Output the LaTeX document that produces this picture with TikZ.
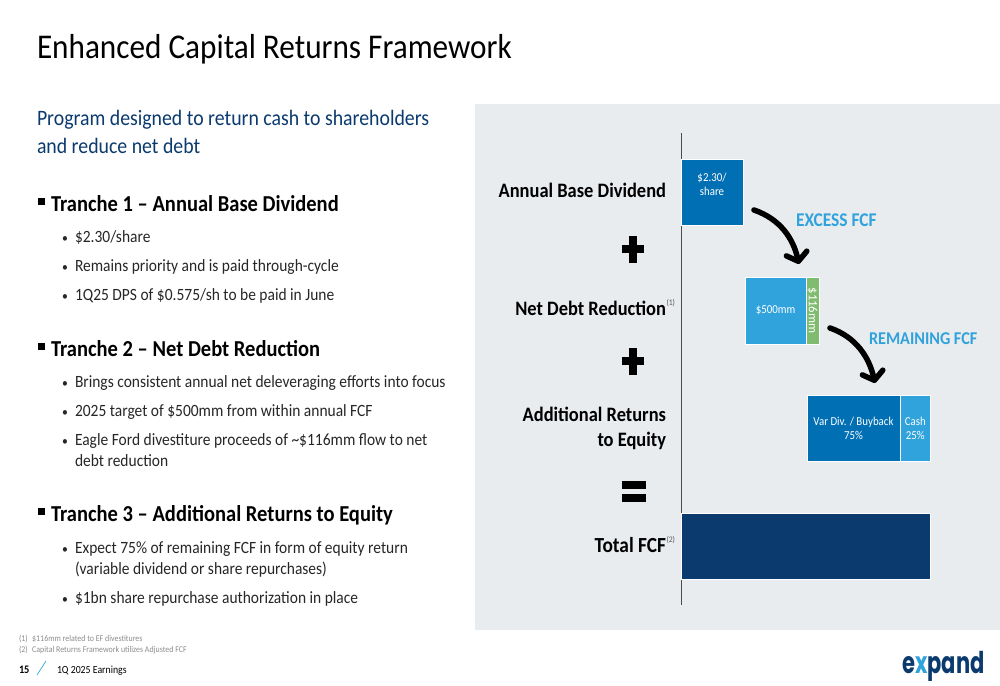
\documentclass[tikz,border=0pt]{standalone}
\usepackage{fontspec}
\setmainfont[FakeStretch=0.9]{Carlito}
\newfontfamily\widefont{Carlito}
\newfontfamily\logofont[FakeStretch=0.70]{Poppins}
\usetikzlibrary{arrows.meta}
\definecolor{panelgrey}{HTML}{E9ECEF}
\definecolor{navy}{HTML}{0B3A6E}
\definecolor{midblue}{HTML}{006FB4}
\definecolor{skyblue}{HTML}{30A2DC}
\definecolor{leaf}{HTML}{80BC70}
\definecolor{footgrey}{HTML}{8A8D90}
\tikzset{
  txt/.style={anchor=base west,inner sep=0pt,outer sep=0pt,text=black},
  head/.style={txt,font=\fontsize{22.8}{26}\selectfont\bfseries},
  item/.style={txt,font=\fontsize{17.2}{24}\selectfont,text=black!85,align=left},
  rowlabel/.style={anchor=base east,inner sep=0pt,outer sep=0pt,font=\fontsize{20.5}{25}\selectfont\bfseries,align=right},
  note/.style={inner sep=0pt,outer sep=0pt,font=\fontsize{8.5}{9}\selectfont,text=black!65},
  block/.style={draw=white,line width=.8pt,inner sep=0pt,outer sep=0pt,anchor=north west,text=white,font=\fontsize{12.1}{14}\selectfont,align=center},
  fcf/.style={anchor=base west,inner sep=0pt,outer sep=0pt,text=skyblue,font=\fontsize{18.4}{22}\selectfont\bfseries},
  foot/.style={anchor=base west,inner sep=0pt,outer sep=0pt,text=footgrey,font=\fontsize{8.8}{11}\selectfont},
  fcfarrow/.style={line width=5.5pt,line cap=round,-{Straight Barb[length=8pt,width=21pt,line width=5.5pt,round]}},
}
\newcommand{\bul}{\makebox[13pt][l]{\fontsize{13}{13}\selectfont\textbullet}}
\begin{document}
\begin{tikzpicture}[x=1pt,y=-1pt]
\useasboundingbox (0,0) rectangle (1000,685);
\fill[panelgrey] (475,104) rectangle (1000,630);

% left column
\node[txt,font=\fontsize{34.7}{40}\selectfont] (title) at (37,59) {Enhanced Capital Returns Framework};
\node[txt,text=navy,align=left,font=\fontsize{22}{28}\selectfont] (intro) at (37,153) {Program designed to return cash to shareholders\\and reduce net debt};

\fill (38,198) rectangle (45,205);
\node[head] (t1) at (51,211) {Tranche 1 -- Annual Base Dividend};
\node[item] (t1a) at (62,242) {\bul \$2.30/share};
\node[item] (t1b) at (62,271) {\bul Remains priority and is paid through-cycle};
\node[item] (t1c) at (62,300) {\bul 1Q25 DPS of \$0.575/sh to be paid in June};

\fill (38,343) rectangle (45,350);
\node[head] (t2) at (51,356) {Tranche 2 -- Net Debt Reduction};
\node[item] (t2a) at (62,387) {\bul Brings consistent annual net deleveraging efforts into focus};
\node[item] (t2b) at (62,416) {\bul 2025 target of \$500mm from within annual FCF};
\node[item] (t2c) at (62,445) {\bul Eagle Ford divestiture proceeds of \textasciitilde\$116mm flow to net};
\node[item] (t2d) at (75,466) {debt reduction};

\fill (38,508) rectangle (45,515);
\node[head] (t3) at (51,521) {Tranche 3 -- Additional Returns to Equity};
\node[item] (t3a) at (62,553) {\bul Expect 75\% of remaining FCF in form of equity return};
\node[item] (t3b) at (75,574) {(variable dividend or share repurchases)};
\node[item] (t3c) at (62,603) {\bul \$1bn share repurchase authorization in place};

% footnotes
\node[foot] (fn1) at (19,641) {(1)\enspace\$116mm related to EF divestitures};
\node[foot] (fn2) at (19,652) {(2)\enspace Capital Returns Framework utilizes Adjusted FCF};
\node[txt,font=\fontsize{11.5}{13}\selectfont\bfseries] (page) at (19,673) {15};
\draw[skyblue,line width=.7pt] (37,675) -- (46,661);
\node[txt,font=\fontsize{10.9}{13}\selectfont] (deck) at (57,673) {1Q 2025 Earnings};

% right panel
\draw[black!70,line width=1pt] (681.5,133) -- (681.5,605);
\node[rowlabel] (abd) at (666,197) {Annual Base Dividend};
\node[rowlabel] (ndr) at (666,315) {Net Debt Reduction};
\node[note,anchor=south west] (ndrnote) at (666.5,307) {(1)};
\node[rowlabel] (are) at (666,446) {Additional Returns\\to Equity};
\node[rowlabel,font=\fontsize{21.5}{25}\selectfont\bfseries] (tot) at (666,552) {Total FCF};
\node[note,anchor=south west] (totnote) at (666.5,544) {(2)};

\fill (622,245) rectangle (644,253);
\fill (629,236) rectangle (637,263);
\fill (622,357) rectangle (644,365);
\fill (629,348) rectangle (637,375);
\fill (622,481) rectangle (646,489);
\fill (622,494) rectangle (646,502);

\node[block,fill=midblue,minimum width=62pt,minimum height=66pt] (base) at (681,159) {\$2.30/\\share\\[2pt]};
\node[block,fill=skyblue,minimum width=61pt,minimum height=67pt] (debt) at (745,277) {\$500mm};
\node[block,fill=leaf,minimum width=13pt,minimum height=67pt] (ef) at (806,277) {};
\node[rotate=-90,inner sep=0pt,text=white,font=\widefont\fontsize{12.6}{15}\selectfont] (eflabel) at (ef.center) {\$116mm};
\node[block,fill=midblue,minimum width=93pt,minimum height=66pt] (varreturn) at (807,395) {Var Div. / Buyback\\75\%};
\node[block,fill=skyblue,minimum width=30.5pt,minimum height=66pt] (cash) at (900,395) {Cash\\25\%};
\node[block,fill=navy,minimum width=249pt,minimum height=66pt] (total) at (681,513) {};

\node[fcf,font=\fontsize{19.4}{22}\selectfont\bfseries] (excess) at (796,226) {EXCESS FCF};
\node[fcf,font=\fontsize{18}{22}\selectfont\bfseries] (remaining) at (869,344) {REMAINING FCF};

\coordinate (a1) at (754,210);
\coordinate (a2) at (799,264);
\draw[fcfarrow] (a1) .. controls (780,219) and (793,238) .. (a2);
\coordinate (b1) at (830,328);
\coordinate (b2) at (875,383);
\draw[fcfarrow] (b1) .. controls (856,337) and (869,357) .. (b2);

% logo
\node[inner sep=0pt,anchor=base west,font=\logofont\fontsize{30}{32}\selectfont\bfseries,text=navy] (logo) at (902,673) {e\textcolor{skyblue}{x}pand};
\end{tikzpicture}
\end{document}
